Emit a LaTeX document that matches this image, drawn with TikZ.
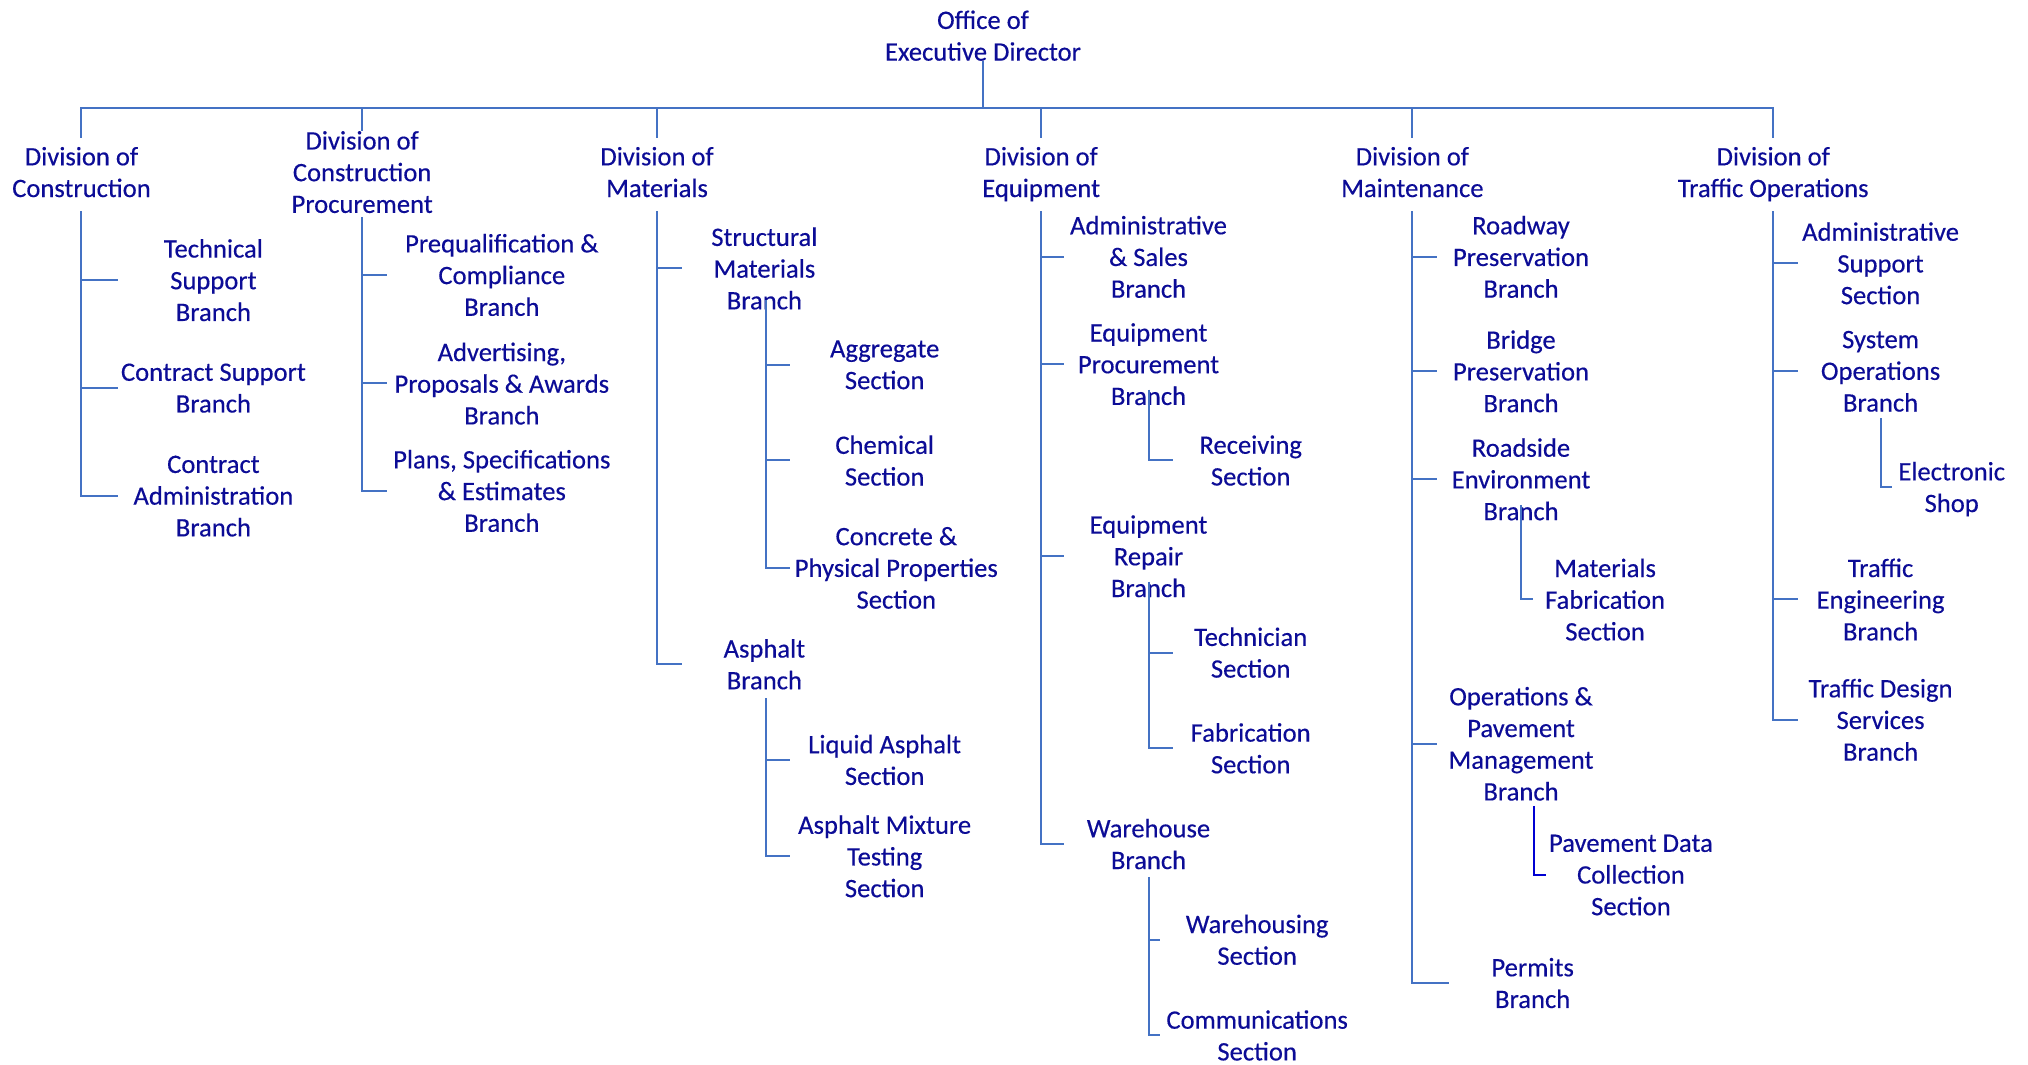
\documentclass[tikz,border=0pt]{standalone}
\usepackage{fontspec}
\setmainfont{Carlito}[FakeBold=0.35]
\definecolor{txtblue}{RGB}{12,12,150}
\definecolor{lineblue}{RGB}{68,114,196}
\definecolor{deepblue}{RGB}{0,0,210}
\begin{document}
\begin{tikzpicture}[x=1.2934pt,y=-1.2934pt,
  every node/.style={text=txtblue,align=center,inner sep=0pt,text depth=0pt,
    font=\fontsize{26.6}{31.7}\selectfont},
  divbox/.style={inner ysep=9pt},
  conn/.style={draw=lineblue,line width=2pt},
  deepconn/.style={draw=deepblue,line width=2pt}]
\useasboundingbox (0,0) rectangle (1568,823);

% ---------- top level ----------
\node (off) at (760,27.5) {Office of\\Executive Director};
\coordinate (bus) at (760,83.5);

\node[divbox] (dCon) at (63,133)  {Division of\\Construction};
\node (dPro) at (280,133) {Division of\\Construction\\Procurement};
\node[divbox] (dMat) at (508,133) {Division of\\Materials};
\node[divbox] (dEqu) at (805,133) {Division of\\Equipment};
\node[divbox] (dMai) at (1092,133) {Division of\\Maintenance};
\node[divbox] (dTra) at (1371,133) {Division of\\Traffic Operations};

\draw[conn] (off.south) -- (bus);
\draw[conn] (dCon.north) -- (dCon.north |- bus) -- (dTra.north |- bus) -- (dTra.north);
\foreach \d in {dMat,dEqu,dMai}
  \draw[conn] (\d.north |- bus) -- (\d.north);
\draw[conn] (dPro.north |- bus) -- ++(0,18);

% ---------- Division of Construction ----------
\node (tsb) at (165,216.5) {Technical\\Support\\Branch};
\node (csb) at (165,300)   {Contract Support\\Branch};
\node (cab) at (165,383.5) {Contract\\Administration\\Branch};
\draw[conn] (dCon.south) ++(0,4) -- (dCon.south |- cab) -- ++(28,0);
\foreach \c in {tsb,csb}
  \draw[conn] (dCon.south |- \c) -- ++(28,0);

% ---------- Division of Construction Procurement ----------
\node (pcb) at (388,212.5) {Prequalification \&\\Compliance\\Branch};
\node (apb) at (388,296.5) {Advertising,\\Proposals \& Awards\\Branch};
\node (pse) at (388,379.5) {Plans, Specifications\\\& Estimates\\Branch};
\draw[conn] (dPro.south) ++(0,3) -- (dPro.south |- pse) -- ++(19,0);
\foreach \c in {pcb,apb}
  \draw[conn] (dPro.south |- \c) -- ++(19,0);

% ---------- Division of Materials ----------
\node (smb) at (591,207.5) {Structural\\Materials\\Branch};
\node (agg) at (684,282)   {Aggregate\\Section};
\node (chm) at (684,356)   {Chemical\\Section};
\node (cpp) at (693,439)   {Concrete \&\\Physical Properties\\Section};
\node (asb) at (591,513.5) {Asphalt\\Branch};
\node (las) at (684,587.5) {Liquid Asphalt\\Section};
\node (amt) at (684,662)   {Asphalt Mixture\\Testing\\Section};
\draw[conn] (dMat.south) ++(0,4) -- (dMat.south |- asb) -- ++(19,0);
\draw[conn] (dMat.south |- smb) -- ++(19,0);
\draw[conn] (smb.south) ++(1,-7) coordinate (smt) -- (smt |- cpp) -- ++(19,0);
\foreach \c in {agg,chm}
  \draw[conn] (smt |- \c) -- ++(19,0);
\draw[conn] (asb.south) ++(1,7) coordinate (ast) -- (ast |- amt) -- ++(19,0);
\draw[conn] (ast |- las) -- ++(19,0);

% ---------- Division of Equipment ----------
\node (asl) at (888,198.5) {Administrative\\\& Sales\\Branch};
\node (epb) at (888,281.5) {Equipment\\Procurement\\Branch};
\node (rcs) at (967,356)   {Receiving\\Section};
\node (erb) at (888,430)   {Equipment\\Repair\\Branch};
\node (tcs) at (967,504.5) {Technician\\Section};
\node (fbs) at (967,578.5) {Fabrication\\Section};
\node (whb) at (888,652.5) {Warehouse\\Branch};
\node (whs) at (972,726.5) {Warehousing\\Section};
\node (cms) at (972,800.5) {Communications\\Section};
\draw[conn] (dEqu.south) ++(0,4) -- (dEqu.south |- whb) -- ++(18,0);
\foreach \c in {asl,epb,erb}
  \draw[conn] (dEqu.south |- \c) -- ++(18,0);
\draw[conn] (epb.south) ++(0,-12) coordinate (ept) -- (ept |- rcs) -- ++(19,0);
\draw[conn] (erb.south) ++(0,-12) coordinate (ert) -- (ert |- fbs) -- ++(19,0);
\draw[conn] (ert |- tcs) -- ++(19,0);
\draw[conn] (whb.south) ++(0,6) coordinate (wht) -- (wht |- cms) -- ++(9,0);
\draw[conn] (wht |- whs) -- ++(9,0);

% ---------- Division of Maintenance ----------
\node (rpb) at (1176,198.5) {Roadway\\Preservation\\Branch};
\node (bpb) at (1176,287)   {Bridge\\Preservation\\Branch};
\node (reb) at (1176,370.5) {Roadside\\Environment\\Branch};
\node (mfs) at (1241,463.5) {Materials\\Fabrication\\Section};
\node (opm) at (1176,575)   {Operations \&\\Pavement\\Management\\Branch};
\node (pdc) at (1261,676.5) {Pavement Data\\Collection\\Section};
\node (pmb) at (1185,760)   {Permits\\Branch};
\draw[conn] (dMai.south) ++(0,4) -- (dMai.south |- pmb) -- ++(28,0);
\foreach \c in {rpb,bpb,reb,opm}
  \draw[conn] (dMai.south |- \c) -- ++(19,0);
\draw[conn] (reb.south) ++(0,-12) coordinate (ret) -- (ret |- mfs) -- ++(9,0);
\draw[deepconn] (opm.south) ++(10,4) coordinate (opt) -- (opt |- pdc) -- ++(9,0);

% ---------- Division of Traffic Operations ----------
\node (ass) at (1454,203.5) {Administrative\\Support\\Section};
\node (sob) at (1454,287)   {System\\Operations\\Branch};
\node (esh) at (1509,376.5) {Electronic\\Shop};
\node (teb) at (1454,463.5) {Traffic\\Engineering\\Branch};
\node (tds) at (1454,556.5) {Traffic Design\\Services\\Branch};
\draw[conn] (dTra.south) ++(0,4) -- (dTra.south |- tds) -- ++(19,0);
\foreach \c in {ass,sob,teb}
  \draw[conn] (dTra.south |- \c) -- ++(19,0);
\draw[conn] (sob.south) ++(0,5) coordinate (sot) -- (sot |- esh) -- ++(9,0);
\end{tikzpicture}
\end{document}
